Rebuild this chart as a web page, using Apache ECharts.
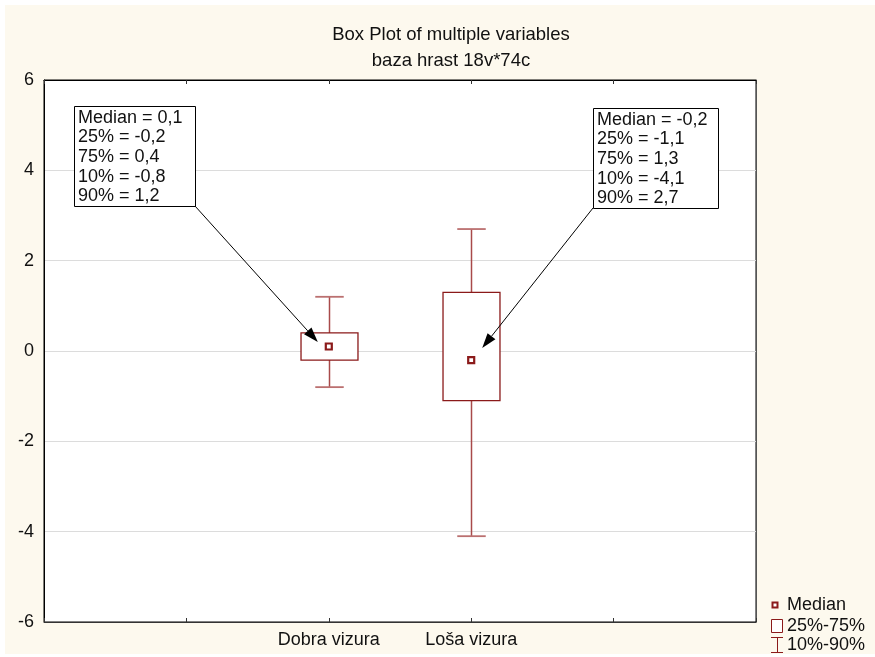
<!DOCTYPE html>
<html>
<head>
<meta charset="utf-8">
<script src="https://cdn.jsdelivr.net/npm/echarts@6/dist/echarts.min.js"></script>
<style>
html,body{margin:0;padding:0;background:#ffffff;}
#c{width:875px;height:657px;}
</style>
</head>
<body>
<div id="c"></div>
<script>
// ---- data ----
var categories = ['', '', 'Dobra vizura', 'Loša vizura', '', ''];
var variables = ['Dobra vizura', 'Loša vizura'];
var medians = [0.1, -0.2];
var q25 = [-0.2, -1.1];
var q75 = [0.4, 1.3];
var p10 = [-0.8, -4.1];
var p90 = [1.2, 2.7];
var yTicks = [-6, -4, -2, 0, 2, 4, 6];

var FONT = 'Liberation Sans, Arial, sans-serif';
var boxColor = '#8b1a1a';
var whiskColor = '#a84a4a';
var capColor = '#bb7070';

function fmt(v) { return v.toFixed(1).replace('.', ','); }

var seriesData = variables.map(function (name, i) {
  return [categories.indexOf(name), p10[i], q25[i], medians[i], q75[i], p90[i]];
});

var chart = echarts.init(document.getElementById('c'), null, {renderer: 'canvas'});

function renderBox(params, api) {
  var x = api.value(0);
  var lo = api.coord([x, api.value(1)]);
  var b1 = api.coord([x, api.value(2)]);
  var md = api.coord([x, api.value(3)]);
  var b3 = api.coord([x, api.value(4)]);
  var hi = api.coord([x, api.value(5)]);
  var w = api.size([1, 0])[0];
  var bw = w * 0.4, cw = w * 0.2;
  var cx = Math.round(lo[0]) + 0.5;
  return {
    type: 'group',
    children: [
      {type: 'line', shape: {x1: cx, y1: hi[1], x2: cx, y2: b3[1]}, style: {stroke: whiskColor, lineWidth: 1.5}},
      {type: 'line', shape: {x1: cx, y1: b1[1], x2: cx, y2: lo[1]}, style: {stroke: whiskColor, lineWidth: 1.5}},
      {type: 'line', shape: {x1: cx - cw / 2, y1: hi[1], x2: cx + cw / 2, y2: hi[1]}, style: {stroke: capColor, lineWidth: 1.8}},
      {type: 'line', shape: {x1: cx - cw / 2, y1: lo[1], x2: cx + cw / 2, y2: lo[1]}, style: {stroke: capColor, lineWidth: 1.8}},
      {type: 'rect', shape: {x: cx - bw / 2, y: b3[1], width: bw, height: b1[1] - b3[1]}, style: {fill: '#ffffff', stroke: boxColor, lineWidth: 1.3}},
      {type: 'rect', shape: {x: md[0] - 3, y: md[1] - 3, width: 6, height: 6}, style: {fill: '#ffffff', stroke: boxColor, lineWidth: 2.2}}
    ]
  };
}

var option = {
  animation: false,
  backgroundColor: 'transparent',
  title: [
    {text: 'Box Plot of multiple variables', left: 446, top: 20, textAlign: 'center',
     textStyle: {fontFamily: FONT, fontSize: 18.5, fontWeight: 'normal', color: '#111'}},
    {text: 'baza hrast 18v*74c', left: 446, top: 46, textAlign: 'center',
     textStyle: {fontFamily: FONT, fontSize: 18.5, fontWeight: 'normal', color: '#111'}}
  ],
  grid: {left: 44, right: 119, top: 80, bottom: 35, show: true, backgroundColor: '#ffffff', borderColor: '#000', borderWidth: 1},
  xAxis: [
    {type: 'category', data: categories, boundaryGap: false, position: 'bottom',
     axisLine: {onZero: false, lineStyle: {color: '#333', width: 1}},
     axisTick: {show: true, inside: true, length: 4, lineStyle: {color: '#333'}},
     axisLabel: {show: true, interval: 0, color: '#111', fontFamily: FONT, fontSize: 18, margin: 9},
     splitLine: {show: false}},
    {type: 'category', data: categories, boundaryGap: false, position: 'top',
     axisLine: {onZero: false, lineStyle: {color: '#000', width: 1}},
     axisTick: {show: true, inside: true, length: 4, lineStyle: {color: '#333'}},
     axisLabel: {show: false}, splitLine: {show: false}}
  ],
  yAxis: [
    {type: 'value', min: yTicks[0], max: yTicks[yTicks.length - 1], interval: 2,
     axisLine: {show: true, onZero: false, lineStyle: {color: '#000'}},
     axisTick: {show: false},
     axisLabel: {color: '#111', fontFamily: FONT, fontSize: 18, margin: 10},
     splitLine: {show: true, lineStyle: {color: '#dcdcdc', width: 1}}},
    {type: 'value', min: yTicks[0], max: yTicks[yTicks.length - 1], interval: 2, position: 'right',
     axisLine: {show: true, onZero: false, lineStyle: {color: '#555'}},
     axisTick: {show: false}, axisLabel: {show: false}, splitLine: {show: false}}
  ],
  series: [{
    type: 'custom',
    renderItem: renderBox,
    data: seriesData,
    encode: {x: 0, y: [1, 2, 3, 4, 5]},
    z: 5
  }]
};
chart.setOption(option);

// annotations (layout in pixels, values from data)
var annBoxes = [
  {x: 74, y: 106, w: 121, h: 100, from: [195, 206], tipOff: [-11, -4.5]},
  {x: 593, y: 108, w: 125, h: 100, from: [593, 208], tipOff: [11, -12]}
];
function arrow(from, to) {
  var dx = to[0] - from[0], dy = to[1] - from[1];
  var L = Math.sqrt(dx * dx + dy * dy);
  var ux = dx / L, uy = dy / L;
  var hl = 15, hw = 5;
  var bx = to[0] - ux * hl, by = to[1] - uy * hl;
  return [
    {type: 'line', shape: {x1: from[0], y1: from[1], x2: bx, y2: by}, style: {stroke: '#000', lineWidth: 1}, z: 20},
    {type: 'polygon', shape: {points: [to, [bx - uy * hw, by + ux * hw], [bx + uy * hw, by - ux * hw]]}, style: {fill: '#000'}, z: 20}
  ];
}
var graphics = [
  {type: 'rect', shape: {x: 5, y: 5, width: 870, height: 649}, style: {fill: '#fdf9ee'}, z: -100, silent: true}
];
variables.forEach(function (name, i) {
  var a = annBoxes[i];
  var md = chart.convertToPixel({xAxisIndex: 0, yAxisIndex: 0}, [categories.indexOf(name), medians[i]]);
  var txt = ['Median = ' + fmt(medians[i]), '25% = ' + fmt(q25[i]), '75% = ' + fmt(q75[i]),
             '10% = ' + fmt(p10[i]), '90% = ' + fmt(p90[i])].join('\n');
  graphics.push({type: 'rect', shape: {x: a.x + 0.5, y: a.y + 0.5, width: a.w, height: a.h},
                 style: {fill: '#ffffff', stroke: '#000', lineWidth: 1}, z: 18});
  graphics.push({type: 'text', x: a.x + 4, y: a.y + 2, z: 19,
                 style: {text: txt, font: '18px ' + FONT, fill: '#111', lineHeight: 19.6, verticalAlign: 'top'}});
  graphics = graphics.concat(arrow(a.from, [md[0] + a.tipOff[0], md[1] + a.tipOff[1]]));
});
// legend
graphics.push({type: 'rect', shape: {x: 772.5, y: 602.5, width: 5, height: 5}, style: {fill: '#fff', stroke: boxColor, lineWidth: 2}});
graphics.push({type: 'text', x: 787, y: 605, style: {text: 'Median', font: '18px ' + FONT, fill: '#111', verticalAlign: 'middle'}});
graphics.push({type: 'rect', shape: {x: 771.5, y: 619.5, width: 11, height: 13}, style: {fill: '#fff', stroke: boxColor, lineWidth: 1}});
graphics.push({type: 'text', x: 787, y: 626, style: {text: '25%-75%', font: '18px ' + FONT, fill: '#111', verticalAlign: 'middle'}});
graphics.push({type: 'line', shape: {x1: 771, y1: 637.5, x2: 783, y2: 637.5}, style: {stroke: boxColor, lineWidth: 1}});
graphics.push({type: 'line', shape: {x1: 777.5, y1: 637.5, x2: 777.5, y2: 652.5}, style: {stroke: boxColor, lineWidth: 1}});
graphics.push({type: 'line', shape: {x1: 771, y1: 652.5, x2: 783, y2: 652.5}, style: {stroke: boxColor, lineWidth: 1}});
graphics.push({type: 'text', x: 787, y: 645, style: {text: '10%-90%', font: '18px ' + FONT, fill: '#111', verticalAlign: 'middle'}});

chart.setOption({graphic: graphics});
</script>
</body>
</html>
